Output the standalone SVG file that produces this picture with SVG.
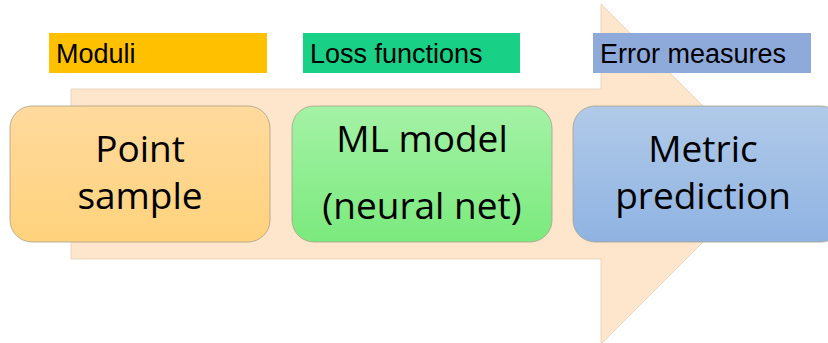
<svg xmlns="http://www.w3.org/2000/svg" width="828" height="343" viewBox="0 0 828 343">
<defs>
<linearGradient id="gO" x1="0" y1="0" x2="0" y2="1"><stop offset="0" stop-color="#FFDA9D"/><stop offset="1" stop-color="#FFD27C"/></linearGradient>
<linearGradient id="gG" x1="0" y1="0" x2="0" y2="1"><stop offset="0" stop-color="#A4F2A6"/><stop offset="1" stop-color="#7BEA7D"/></linearGradient>
<linearGradient id="gB" x1="0" y1="0" x2="0" y2="1"><stop offset="0" stop-color="#B1CAE9"/><stop offset="1" stop-color="#8FB3E2"/></linearGradient>
<style>
.lbl{font-family:"Liberation Sans",Arial,sans-serif;font-size:27px;fill:#000}
.node{stroke:#A8A08C;stroke-width:0.8}
.nt{font-family:"Open Sans","Noto Sans",sans-serif;font-size:37px;fill:#000;text-anchor:middle}
</style>
</defs>
<rect width="828" height="343" fill="#FFFFFF"/>
<g id="arrow">
<path d="M71,89 H601 V4 L771,174 L601,344 V259 H71 Z" fill="#FDE6CB" stroke="#E6CDAE" stroke-width="0.8"/>
</g>
<g id="label-moduli">
<rect x="49" y="33" width="218" height="40" fill="#FFC000"/>
<text class="lbl" x="56" y="63">Moduli</text>
</g>
<g id="label-loss">
<rect x="303" y="33" width="217" height="40" fill="#19D186"/>
<text class="lbl" x="310" y="63">Loss functions</text>
</g>
<g id="label-error">
<rect x="593" y="33" width="218" height="40" fill="#8EAADB"/>
<text class="lbl" x="600" y="63">Error measures</text>
</g>
<g id="node-point">
<rect class="node" x="10" y="106" width="260" height="136" rx="22" fill="url(#gO)"/>
<text class="nt" x="140" y="162">Point</text>
<text class="nt" x="140" y="209">sample</text>
</g>
<g id="node-ml">
<rect class="node" x="292" y="106" width="260" height="136" rx="22" fill="url(#gG)"/>
<text class="nt" x="422" y="152">ML model</text>
<text class="nt" x="422" y="219">(neural net)</text>
</g>
<g id="node-metric">
<rect class="node" x="573" y="106" width="270" height="136" rx="22" fill="url(#gB)"/>
<text class="nt" x="703" y="162">Metric</text>
<text class="nt" x="703" y="209">prediction</text>
</g>
<g id="connectors"></g>
</svg>
